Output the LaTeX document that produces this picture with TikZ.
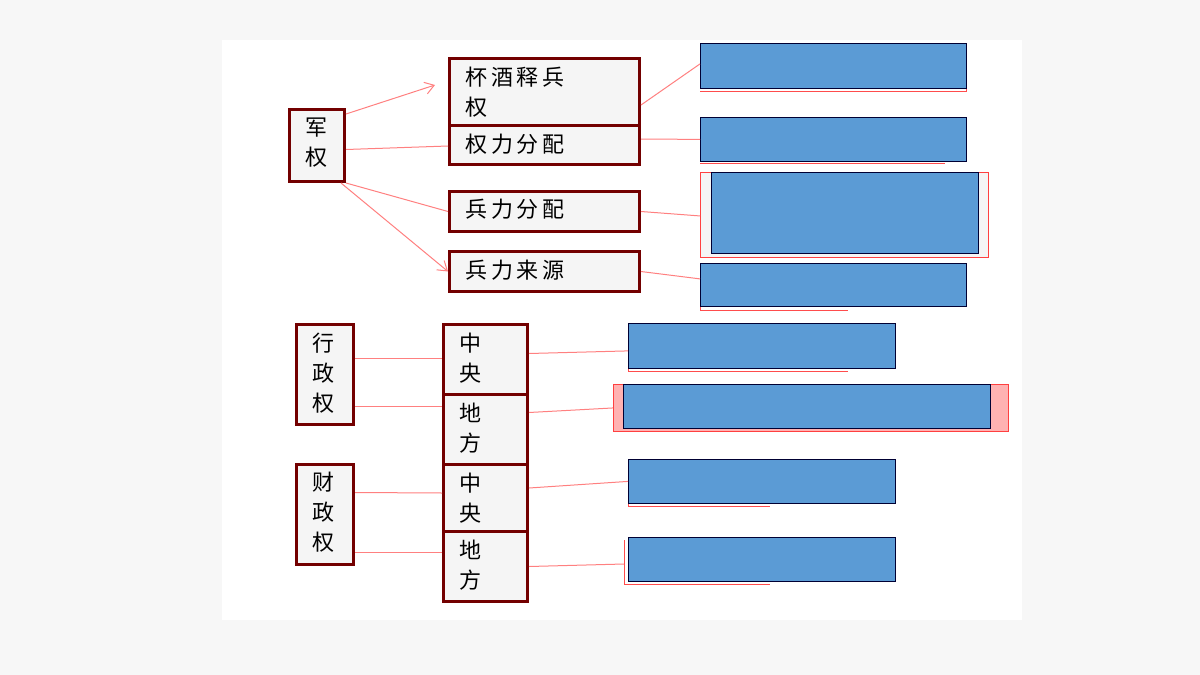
\documentclass[tikz,border=0pt]{standalone}
\usepackage{fontspec}
\setmainfont{Noto Sans CJK SC}
\usetikzlibrary{arrows.meta}
\begin{document}
\begin{tikzpicture}[x=1pt,y=-1pt,
  box/.style={draw=red!45!black,line width=3pt,fill=gray!8,inner sep=0pt},
  lnk/.style={draw=red!50,line width=1pt},
  arr/.style={-{Straight Barb[length=9pt,width=12pt]}},
  tx/.style={font=\fontsize{22}{30}\selectfont,align=left,anchor=north west}]
\definecolor{bl}{HTML}{5B9BD5}
\useasboundingbox (0,0) rectangle (1200,675);
\fill[gray!6] (0,0) rectangle (1200,675);
\fill[white] (222,40) rectangle (1022,620);
\newcommand\bx[6]{\node[box,minimum width=#4-#2,minimum height=#5-#3,anchor=north west] (#1) at (#2,#3) {};\node[tx] at (#2+14,#3+6) {#6};}
\bx{jq}{288}{108}{343}{180}{军\\权}
\bx{bj}{448}{57}{638}{124}{杯\,酒\,释\,兵\\权}
\bx{ql}{448}{124}{638}{163}{权\,力\,分\,配}
\bx{bf}{448}{190}{638}{230}{兵\,力\,分\,配}
\bx{bl}{448}{250}{638}{290}{兵\,力\,来\,源}
\bx{xz}{295}{323}{352}{423}{行\\政\\权}
\bx{z1}{442}{323}{526}{393}{中\\央}
\bx{d1}{442}{393}{526}{463}{地\\方}
\bx{cz}{295}{463}{352}{563}{财\\政\\权}
\bx{z2}{442}{463}{526}{530}{中\\央}
\bx{d2}{442}{530}{526}{600}{地\\方}
% blue boxes
\draw[red!70,line width=0.8pt] (700,88) -- (966,88) -- (966,91) -- (700,91);
\node[fill=bl,draw=blue!20!black,line width=0.8pt,inner sep=0,anchor=north west,minimum width=266,minimum height=45] (r1) at (700,43) {};
\draw[red!70,line width=0.8pt] (700,163) -- (945,163);
\node[fill=bl,draw=blue!20!black,line width=0.8pt,inner sep=0,anchor=north west,minimum width=266,minimum height=44] (r2) at (700,117) {};
\node[draw=red!75,line width=0.9pt,fill=gray!8,inner sep=0,anchor=north west,minimum width=288,minimum height=85] (r3o) at (700,172) {};
\node[fill=bl,draw=blue!20!black,line width=0.8pt,inner sep=0,anchor=north west,minimum width=267,minimum height=81] (r3) at (711,172) {};
\draw[red!70,line width=0.8pt] (700,306) -- (700,310) -- (848,310);
\node[fill=bl,draw=blue!20!black,line width=0.8pt,inner sep=0,anchor=north west,minimum width=266,minimum height=43] (r4) at (700,263) {};
\draw[red!70,line width=0.8pt] (628,368) -- (628,371) -- (848,371);
\node[fill=bl,draw=blue!20!black,line width=0.8pt,inner sep=0,anchor=north west,minimum width=267,minimum height=45] (r5) at (628,323) {};
\node[draw=red!75,line width=0.9pt,fill=red!30,inner sep=0,anchor=north west,minimum width=395,minimum height=47] (r6o) at (613,384) {};
\node[fill=bl,draw=blue!20!black,line width=0.8pt,inner sep=0,anchor=north west,minimum width=367,minimum height=44] (r6) at (623,384) {};
\draw[red!70,line width=0.8pt] (628,503) -- (628,506) -- (770,506);
\node[fill=bl,draw=blue!20!black,line width=0.8pt,inner sep=0,anchor=north west,minimum width=267,minimum height=44] (r7) at (628,459) {};
\draw[red!70,line width=0.8pt] (624,540) -- (624,584) -- (770,584);
\node[fill=bl,draw=blue!20!black,line width=0.8pt,inner sep=0,anchor=north west,minimum width=267,minimum height=44] (r8) at (628,537) {};
% links
\coordinate (a1) at (435,85);
\draw[lnk,arr] ([yshift=-6]jq.north east) -- (a1);
\draw[lnk] ([yshift=-4]jq.east) -- ([yshift=-1]ql.west);
\draw[lnk] (jq.south east) -- (bf.west);
\draw[lnk,arr] ([xshift=-5]jq.south east) -- (bl.west);
\draw[lnk] ([yshift=-13]bj.east) -- ([yshift=2]r1.west);
\draw[lnk] ([yshift=6]ql.east) -- (r2.west);
\draw[lnk] (bf.east) -- ([yshift=-1]r3o.west);
\draw[lnk] (bl.east) -- ([yshift=6]r4.west);
\draw[lnk] ([yshift=16]xz.east) -- ([yshift=1]z1.west);
\draw[lnk] ([yshift=-32]xz.east) -- ([yshift=23]d1.west);
\draw[lnk] ([yshift=22]cz.east) -- ([yshift=5]z2.west);
\draw[lnk] ([yshift=-38]cz.east) -- ([yshift=14]d2.west);
\draw[lnk] ([yshift=6]z1.east) -- ([yshift=-5]r5.west);
\draw[lnk] ([yshift=17]d1.east) -- (r6o.west);
\draw[lnk] ([yshift=10]z2.east) -- (r7.west);
\coordinate (e8) at (624,564);
\draw[lnk] (d2.east) -- (e8);
\end{tikzpicture}
\end{document}
